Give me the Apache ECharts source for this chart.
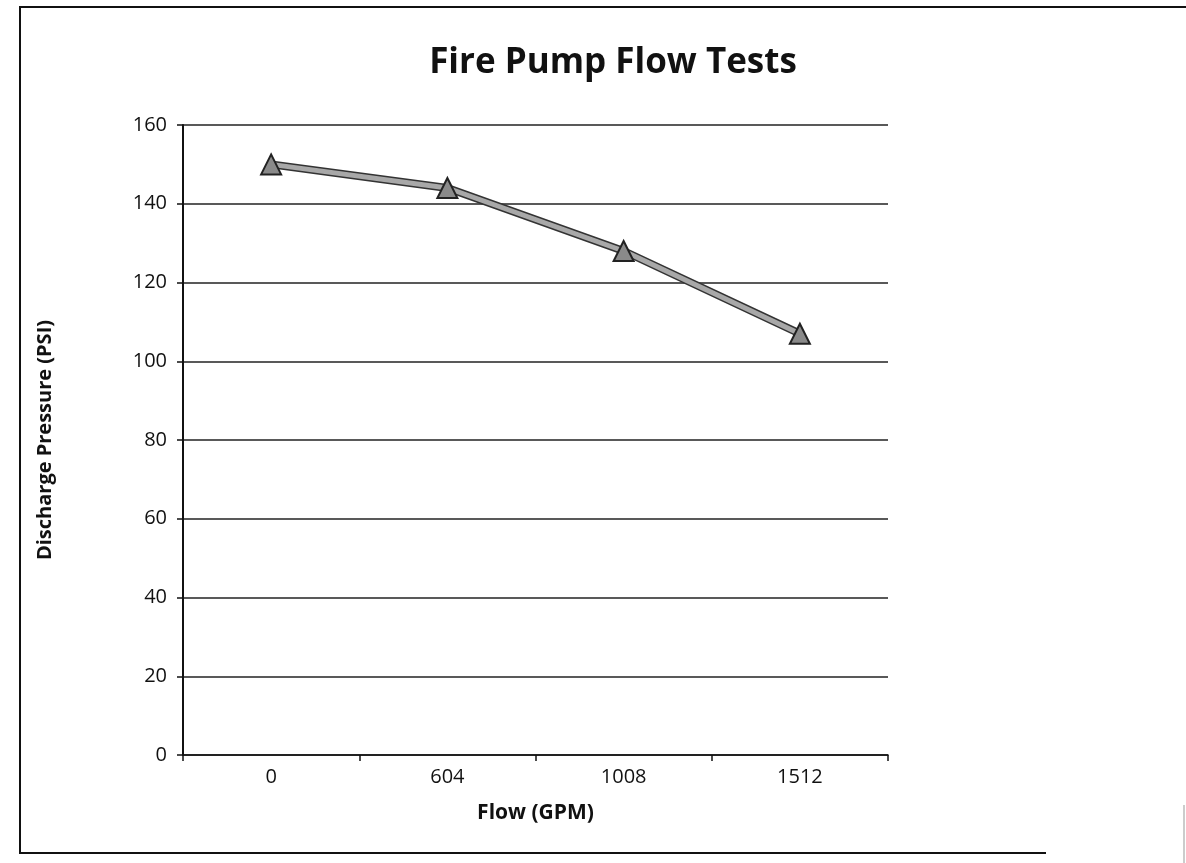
<!DOCTYPE html>
<html>
<head>
<meta charset="utf-8">
<script src="https://cdn.jsdelivr.net/npm/echarts@6/dist/echarts.min.js"></script>
<style>html,body{margin:0;padding:0;background:#fff;}#c{width:1186px;height:863px;}</style>
</head>
<body>
<div id="c"></div>
<script>
const categories = ['0', '604', '1008', '1512'];
const pressure = [150, 144, 128, 107];
const yTicks = [0, 20, 40, 60, 80, 100, 120, 140, 160];

const font = '"Open Sans", "Liberation Sans", sans-serif';
const chart = echarts.init(document.getElementById('c'));
chart.setOption({
  backgroundColor: '#fff',
  animation: false,
  title: {
    text: 'Fire Pump Flow Tests',
    left: 608, top: 41, textAlign: 'center',
    textStyle: { fontFamily: font, fontWeight: 'bold', fontSize: 35, color: '#111' }
  },
  grid: { left: 183, top: 125, right: 298, bottom: 108 },
  xAxis: {
    type: 'category',
    data: categories,
    boundaryGap: true,
    name: 'Flow (GPM)',
    nameLocation: 'middle',
    nameGap: 48,
    nameTextStyle: { fontFamily: font, fontWeight: 'bold', fontSize: 21, color: '#111' },
    axisLine: { lineStyle: { color: '#111', width: 1.5 } },
    axisTick: { show: true, length: 6, lineStyle: { color: '#111', width: 1.5 } },
    axisLabel: { margin: 12, fontFamily: font, fontSize: 20, color: '#111' },
    splitLine: { show: false }
  },
  yAxis: {
    type: 'value',
    min: yTicks[0], max: yTicks[yTicks.length - 1], interval: 20,
    name: 'Discharge Pressure (PSI)',
    nameLocation: 'middle',
    nameGap: 128,
    nameTextStyle: { fontFamily: font, fontWeight: 'bold', fontSize: 20, color: '#111' },
    axisLine: { show: true, lineStyle: { color: '#111', width: 2 } },
    axisTick: { show: true, length: 6, lineStyle: { color: '#111', width: 1.5 } },
    axisLabel: { margin: 16, fontFamily: font, fontSize: 20, color: '#111' },
    splitLine: { show: true, lineStyle: { color: '#222', width: 1.5 } }
  },
  series: [
    {
      type: 'line', data: pressure, symbol: 'none', silent: true, z: 2,
      lineStyle: { color: '#333', width: 8 }
    },
    {
      type: 'line', data: pressure, symbol: 'triangle', symbolSize: 20, z: 3,
      lineStyle: { color: '#a8a8a8', width: 5 },
      itemStyle: { color: '#8a8a8a', borderColor: '#222', borderWidth: 2 }
    }
  ],
  graphic: [
    { type: 'polyline', shape: { points: [[1186, 7], [20, 7], [20, 853], [1046, 853]] },
      style: { stroke: '#111', lineWidth: 2, fill: null } },
    { type: 'line', shape: { x1: 1184, y1: 805, x2: 1184, y2: 863 },
      style: { stroke: '#bbb', lineWidth: 1.5 } }
  ]
});
</script>
</body>
</html>
